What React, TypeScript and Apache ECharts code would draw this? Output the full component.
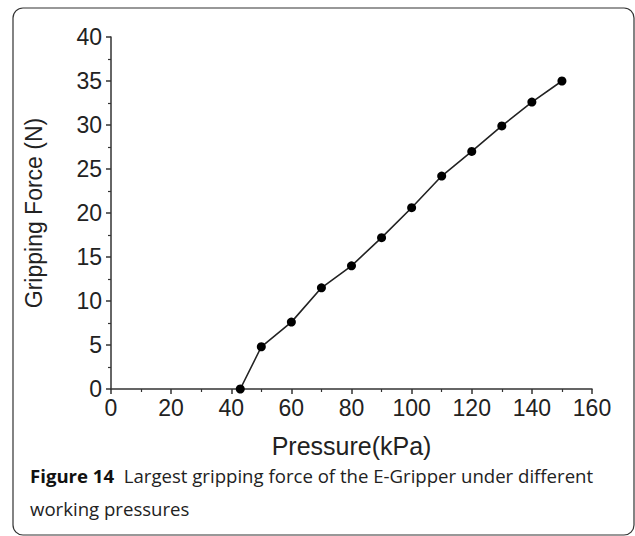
import React, { useEffect, useRef } from "react";
import * as echarts from "echarts";

const pressure = [43, 50, 60, 70, 80, 90, 100, 110, 120, 130, 140, 150];
const force = [0, 4.8, 7.6, 11.5, 14.0, 17.2, 20.6, 24.2, 27.0, 29.9, 32.6, 35.0];
const xTitle = "Pressure(kPa)";
const yTitle = "Gripping Force (N)";
const captionBold = "Figure 14";
const captionLine1 = "Largest gripping force of the E-Gripper under different";
const captionLine2 = "working pressures";

export default function App() {
  const ref = useRef<HTMLDivElement>(null);
  useEffect(() => {
    if (!ref.current) return;
    const chart = echarts.init(ref.current, null, { renderer: "svg" });
    const axisColor = "#333";
    const labelFont = "Liberation Sans";
    chart.setOption({
      animation: false,
      backgroundColor: "#fff",
      grid: { left: 111, right: 43, top: 37, bottom: 147 },
      xAxis: {
        type: "value",
        min: 0,
        max: 160,
        interval: 20,
        name: xTitle,
        nameLocation: "middle",
        nameGap: 44,
        nameTextStyle: { fontFamily: labelFont, fontSize: 25, color: "#222" },
        axisLine: { show: true, lineStyle: { color: axisColor, width: 1.5 } },
        axisTick: { show: true, inside: false, length: 5, lineStyle: { color: axisColor, width: 1.5 } },
        minorTick: { show: true, splitNumber: 2, length: 3, lineStyle: { color: axisColor, width: 1.2 } },
        axisLabel: { fontFamily: labelFont, fontSize: 23, color: "#222", margin: 7 },
        splitLine: { show: false },
      },
      yAxis: {
        type: "value",
        min: 0,
        max: 40,
        interval: 5,
        name: yTitle,
        nameLocation: "middle",
        nameGap: 66,
        nameRotate: 90,
        nameTextStyle: { fontFamily: labelFont, fontSize: 23, color: "#222" },
        axisLine: { show: true, lineStyle: { color: axisColor, width: 1.5 } },
        axisTick: { show: true, inside: false, length: 5, lineStyle: { color: axisColor, width: 1.5 } },
        minorTick: { show: true, splitNumber: 2, length: 3, lineStyle: { color: axisColor, width: 1.2 } },
        axisLabel: { fontFamily: labelFont, fontSize: 23, color: "#222", margin: 9 },
        splitLine: { show: false },
      },
      series: [
        {
          type: "line",
          data: pressure.map((p, i) => [p, force[i]]),
          symbol: "circle",
          symbolSize: 9,
          itemStyle: { color: "#000" },
          lineStyle: { color: "#222", width: 1.6 },
        },
      ],
      graphic: [
        {
          type: "rect",
          shape: { x: 13, y: 8, width: 621, height: 527, r: 10 },
          style: { fill: "none", stroke: "#333", lineWidth: 1.2 },
          silent: true,
        },
        {
          type: "text",
          x: 30,
          y: 475,
          style: {
            text: "{b|" + captionBold + "}  " + captionLine1,
            fontFamily: "Open Sans",
            fontSize: 18.6,
            fill: "#222",
            verticalAlign: "middle",
            rich: {
              b: { fontFamily: "Open Sans", fontSize: 18.6, fontWeight: "bold", fill: "#111" },
            },
          },
        },
        {
          type: "text",
          x: 30,
          y: 508,
          style: {
            text: captionLine2,
            fontFamily: "Open Sans",
            fontSize: 18.6,
            fill: "#222",
            verticalAlign: "middle",
          },
        },
      ],
    });
    return () => chart.dispose();
  }, []);
  return (
    <div
      ref={ref}
      style={{ position: "fixed", left: 0, top: 0, width: 635, height: 536, background: "#fff" }}
    />
  );
}
